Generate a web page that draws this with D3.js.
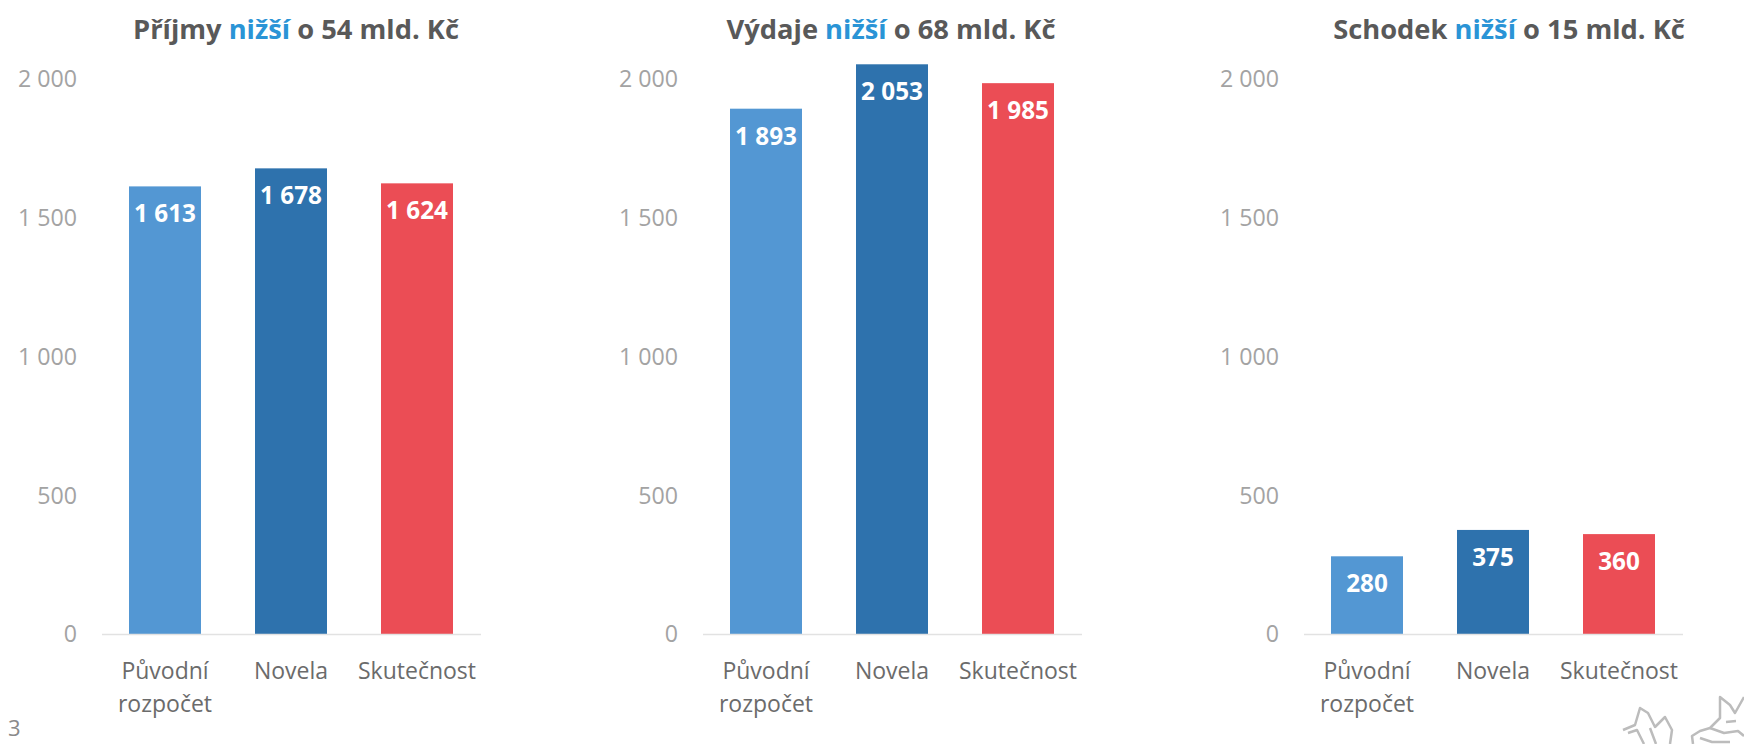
<!DOCTYPE html>
<html>
<head>
<meta charset="utf-8">
<script src="https://cdn.jsdelivr.net/npm/d3@7"></script>
<style>
  html, body { margin: 0; padding: 0; background: #fff; overflow: hidden; }
  text { font-family: "Open Sans", "Noto Sans", sans-serif; }
  .domain, .tick line { display: none; }
</style>
</head>
<body>
<script>
var w = 1744;
var h = 744;

var categories = ["Původní rozpočet", "Novela", "Skutečnost"];
var barColors = ["#5397d3", "#2e72ad", "#eb4d55"];
var yTicks = [0, 500, 1000, 1500, 2000];

var titleStarts = ["Příjmy ", "Výdaje ", "Schodek "];
var titleEnds = [" o 54 mld. Kč", " o 68 mld. Kč", " o 15 mld. Kč"];
var titleCenters = [296, 290, 307];
var prijmy = [1613, 1678, 1624];
var vydaje = [1893, 2053, 1985];
var schodek = [280, 375, 360];
var panels = [prijmy, vydaje, schodek];

var panelOffset = 601;
var thousands = function(d) { return d3.format(",")(d).replace(/,/g, " "); };

var svg = d3.select("body").append("svg")
    .attr("width", w)
    .attr("height", h);

var xScale = d3.scaleBand()
    .domain(categories)
    .range([102, 480])
    .paddingInner(54 / 126)
    .paddingOuter(27 / 126);

var yScale = d3.scaleLinear()
    .domain([0, 2000])
    .range([634, 79]);

panels.forEach(function(values, p) {
  var g = svg.append("g").attr("transform", "translate(" + (p * panelOffset) + ",0)");

  var title = g.append("text")
      .attr("x", titleCenters[p])
      .attr("y", 39)
      .attr("text-anchor", "middle")
      .style("font-size", "27.3px")
      .style("font-weight", 700)
      .attr("fill", "#595959");
  title.append("tspan").text(titleStarts[p]);
  title.append("tspan").attr("fill", "#2a94d6").text("nižší");
  title.append("tspan").text(titleEnds[p]);

  var yAxis = d3.axisLeft(yScale)
      .tickValues(yTicks)
      .tickSize(0)
      .tickPadding(0)
      .tickFormat(thousands);

  var ya = g.append("g")
      .attr("transform", "translate(77,0.5)")
      .call(yAxis);
  ya.selectAll("text")
      .style("font-size", "23.2px")
      .attr("fill", "#a3a3a3");

  g.selectAll("rect")
      .data(values)
      .enter()
      .append("rect")
      .attr("x", function(d, i) { return xScale(categories[i]); })
      .attr("y", function(d) { return yScale(d); })
      .attr("width", xScale.bandwidth())
      .attr("height", function(d) { return yScale(0) - yScale(d); })
      .attr("fill", function(d, i) { return barColors[i]; });

  g.append("line")
      .attr("x1", 102)
      .attr("x2", 481)
      .attr("y1", 634.5)
      .attr("y2", 634.5)
      .attr("stroke", "#e2e2e2")
      .attr("stroke-width", 1.5);

  g.selectAll(".val")
      .data(values)
      .enter()
      .append("text")
      .attr("class", "val")
      .attr("x", function(d, i) { return xScale(categories[i]) + xScale.bandwidth() / 2; })
      .attr("y", function(d) { return yScale(d) + 36; })
      .attr("text-anchor", "middle")
      .attr("fill", "#fff")
      .style("font-size", "24.3px")
      .style("font-weight", 700)
      .text(thousands);

  // category labels, first one wraps on two lines
  categories.forEach(function(c) {
    var lab = g.append("text")
        .attr("text-anchor", "middle")
        .attr("fill", "#6b6b6b")
        .style("font-size", "23px");
    var cx = xScale(c) + xScale.bandwidth() / 2;
    c.split(" ").forEach(function(word, j) {
      lab.append("tspan").attr("x", cx).attr("y", 679 + j * 33).text(word);
    });
  });
});

svg.append("text")
    .attr("x", 8)
    .attr("y", 736)
    .attr("fill", "#8a8a8a")
    .style("font-size", "22px")
    .text("3");

// lions from the slide footer, cut off by the page edge
var logo = svg.append("g")
    .attr("fill", "none")
    .attr("stroke", "#bcbcbc")
    .attr("stroke-width", 2.5)
    .attr("stroke-linejoin", "round");
logo.append("path").attr("d", "M1623,730 L1635,725 L1640,708 L1648,713 L1655,727 L1665,717 L1672,730 L1670,744");
logo.append("path").attr("d", "M1628,733 L1637,730 L1644,744 M1650,728 L1656,744");
logo.append("path").attr("d", "M1693,744 L1692,736 L1700,731 L1710,728 L1720,718 L1720,697 L1730,705 L1735,713 L1744,697");
logo.append("path").attr("d", "M1710,728 L1724,733 L1738,731 L1744,736 M1726,722 L1736,721 M1700,738 L1712,742 L1730,742");
</script>
</body>
</html>
